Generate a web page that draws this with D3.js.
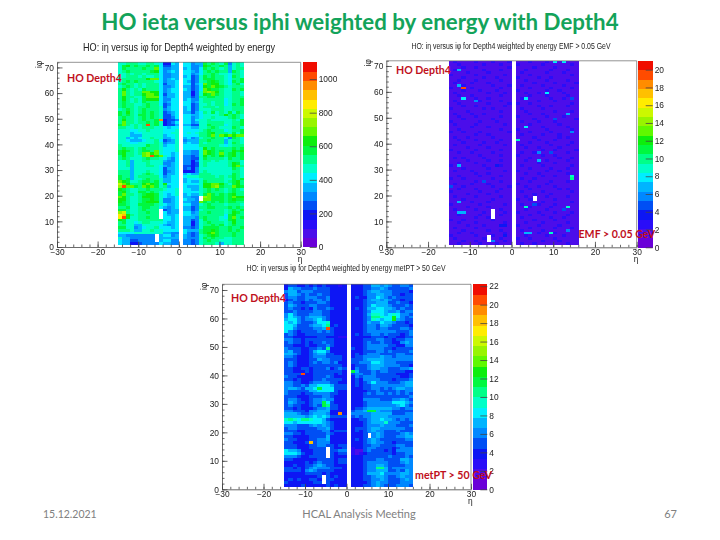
<!DOCTYPE html>
<html><head><meta charset="utf-8">
<script src="https://cdn.jsdelivr.net/npm/d3@7"></script>
<style>html,body{margin:0;padding:0;background:#fff}svg{display:block}</style>
</head><body><svg id="c" width="720" height="540"></svg>
<script>
// iphi rows from 71 down to 1; columns are ieta -15..15, each character is a colour band 0-19 (0-9,a-j), '.' = empty
const etaBins = d3.range(-15, 16);
const phiBins = d3.range(71, 0, -1);
const paletteColors = ["#6a00d8","#4c10ea","#2a10f8","#0a14f4","#0050f4","#0088ff","#00b4ff","#00eeff","#00ffc8","#00ff88","#00f840","#10ee10","#60f800","#98f400","#ccf800","#ffec00","#ffc000","#ff8c00","#ff4c00","#f01000"];
const rowsAll = [
"889998899873376.77566a9a98a5898","8ab9a99a9a74466.77556ba99a96898","8a9999a99c75566.67557a9a9896899","89a99999ab75676.776579a9a996a98",
"889899899975566.7756799a9887998","889998988975566.67458a9a9987a98","8999999bcc75676.77458aaa998799a","89a9a9999875667.764589aba987a9a",
"9a9989899974667.77467cabb9879a8","89a989899975567.66457bacba98999","9b9898a99975677.76457cbaa988a9a","9c9899ccbb75677.66358cdcb988998",
"9c9899bccb74667.66358baca988998","9b9988accc75667.664599aa9988999","9b9898abbb75577.67558999997899a","9a9898a99975677.77568998997899a",
"9a99889a9974577.7745889899 78a9a","9a99899a9984677.6745899989 88999","89a989a99985677.6745888999 88999","a9b989a9a984567.6646798a898a8a9",
"a9a98aa9a984467.7766788889b9a98","9a9989a9a984457.7756788988 89a98","9b9989a99ah3445.7757889888 8898a","9c99899a9a83457.7756889999 8899a",
"ac98989i9a83446.664488a999 7899a","998898999887677.7766889a98 88a98","8887788988 87778.777789a999 7899a","8886778888 87788.787899ab99 98a8a",
"8886668888 86778.777799ac9c bcbcc","8867678898 86678.6756899a99 75a98","8876667889 74568.566699a999 68998","8887788889 85668.6766989999 68a98",
"9888888a99 86778.7777999998 78999","9a9989a999 87778.77778b9a99 99a9a","aba989aa9c 87778.66558cba9a 99bab","ab9989cdbc 87767.66558cba9c 9ab9a",
"9b9988cdib c8767.55458b9a9b 9ab9a","9a98889a99 87657.55448a9999 8a99a","8896889988 86557.5535899898 89998","8896888988 85567.5534898888 89ba8",
"8896888998 76567.4434898888 89bc9","8886888888 74667.4535888888 88a98","9996888988 74567.3335898888 88998","9996889a98 74667.6766999888 88a98",
"a996899999 75677.7888999989 89a98","a9a6889a99 86677.6777899999 88a9a","cba889aa9a 86677.67668a9999 89ab9","ecb999bcba 8b777.77778bbccb 98ab9",
"dicca9cbca 89677.76668bbcda 99cba","ba98899a99 98778.776689a9a9 89a98","ab988aa9a9 87778.777789a999 89a99","ac9989abba 87678.67668aca9a 9ab99",
"cb9889bbba 87667.6655bdcaaa 9acbb","bb9889aaba 85567.7665bccaaa 9abaa","ba9889abbb 85567.6655ca9a9a 9aa99","aa988aaaa9 87667.775589a999 89998",
"99a889aa99 76567.664599aa99 9a9a9","aa9889a999 74566.6645899999 89a9a","de98899a99 87566.775699a999 89ba9","fgb9899999 87667.7766999999 7ab99",
"fib8899a99 97767.66659a9998 7ac9a","ba88899999 97767.66458a9998 8ab99","9a88789988 87667.663589a999 89b99","9988668888 76567.6635899a9a 89a99",
"aa88567889 77767.55458aaaa9 9a99a","9998668898 87777.76669aaba9 9a9a9","7777888888 86655.75459abca9 99a99","6655555555 67756.654589aba9 99a99",
"8665555555 66666.65558a9a99 88999","7664455555 67755.554589a998 88999","7663345555 76655.5545899986 88999"
].map(r => r.replace(/ /g,""));
const rowsEmf = [
"121111211121112.111211121112111","112111112111211.211111211111121","111211211111112.111121111211111","121111112111211.112111112111211",
"111121111211111.121111121112111","211111211111121.111211111111121","111211112112111.211112112111111","112111211111211.112111121111211",
"121112111211111.111121111211112","111211111121112.121111211112111","211112111111211.111211112111121","111211121112111.211111121121111",
"121111111211121.112112111112111","112112111111211.111211121111211","111111211211111.121111112112111","121111121111211.111112111211111",
"112111111211112.211211111111121","111211211111121.111112112111211","211111112121111.121111211111111","111121111111211.112111111211121",
"121112112111111.111211211111211","112111211111211.211111121112111","111211111121111.111121111211112","211111121112111.121112111211111",
"121111211111121.111211111121111","111112111211111.112111211111211","112111111111211.211111121111121","211211121111112.111211112111111",
"111111211211111.121111211121111","121121111121111.111121111121211","112111211111211.211112111211111","111211112112111.111211121111121",
"121111121111121.121111112111211","111121111211111.112112111121111","211111211111211.111111211211112","112112111121111.121121111111211",
"111111121111211.211111211211111","121211112111111.111211111121121","111121111211211.112111121111211","112111211111111.111112111211111",
"211111112111211.121111211111121","111211111211111.111211112111211","121112111111121.211111121121111","111111211211111.112112111111211",
"112111121111211.111111211211111","211211111121111.121121111111121","111111211111211.111211112111211","121112111211111.211111121111111",
"111211111121112.112112111211111","112111211111211.111211111121211","211111121112111.121111211111121","111121111211111.111121112111111",
"121111211111211.112111121111211","111211111121111.211211111211111","112112111211111.111111211111121","211111121111121.121112111211111",
"111121111211111.111211112111211","121111211111211.112111121111111","111211112111121.211112111211121","112111121111211.111211211111211",
"111111211211111.121111112112111","211211111121111.111121111211111","112111211111121.112111211111211","111121112111211.211112111121111",
"121111211111111.111211111211121","111211111211211.121111211111211","112112111111121.111112111211111","211111211121111.112111121112111",
"121111112111211.211211111211111","111211211111121.111111211121111","112111121112111.121121111111211"
];
const rowsMet = [
"344334343433323.3334466565 44554","365544454443333.3334455654 44445","566455544443333.3334566555 44443","466545445443333.3334556655 44344",
"455445554453333.3433557654 54444","345445455453333.3334566565 44344","454434445543333.3334556664 45443","465444554443333.3334576665 44454",
"454434354454333.3434667766 54544","445444455443333.3334577765 56455","575444555443333.3334688767 87554","576545666543333.3334599877 87545",
"677545567543333.3334587677 86544","767544457783333.3334655766 54434","776444566793433.3334554665 44443","775444455654333.3334554554 44554",
"754344445454333.3334555555 54445","454334444444333.3434455454 44345","443333334433322.3333344434 43344","554434444444333.3334445544 34455",
"454434344544333.3334544544 33565","443334334454333.3334555554 43355","544433445453333.4334555544 34444","564433467753333.3334445545 44445",
"665433456644333.3434555444 45544","554333455544443.3445555655 45555","444333446554443.4445666655 55555","454333454554533.4455577655 54444",
"454333444444443.3444566655 55443","443344344453454.3544566554 44556","443334344444443.3644454554 44433","444433344444343.4554454444 43334",
"544333344454333.3545554444 44334","443433344544443.3435555444 34445","554433455554433.3434575554 44566","554454667776444.3434455555 55566",
"566546678777444.3334455454 56655","544444667777433.3333445444 45455","544434455554433.3334545545 45454","444333444554333.3334444444 44445",
"455433455655333.3335555444 55654","465443455774333.3334555555 77765","454433454994433.3334555555 56754","443433345564433.3445666666 55455",
"554443556663333.4556666555 44444","666544566653353.5555566666 44455","666665676764444.4545566665 55555","898779877643333.3344566766 54545",
"776777777654333.3334566685 55444","555444565654333.3334555655 54445","455444445564333.3444566555 55544","444334444553444.3434565544 45444",
"554434444454333.3334456544 44565","443333444463333.3334556544 45566","544333445563333.3434565444 44455","443334445553333.3334565544 34444",
"444333445544344.3334455444 45544","444333444444334.2334554444 34555","766533344454455.2234544434 35555","777643344444344.2223444444 34455",
"555433444444333.3334444445 44454","443333334444344.3334445544 44665","333334345444344.3334555554 44565","334334456544333.3334556654 44455",
"443434565554443.3334555964 55555","444435654444333.3334556664 45465","333334444343333.3334666755 55665","333333334443433.3334456654 45655",
"343433443344333.3334455654 44565","433333344443333.3333456554 44555","333343333343433.3334456544 45554"
].map(r => r.replace(/ /g,""));
// individually read cells: [ieta, iphi, band]; band -1 = empty bin
const hotAll = [[-5,11,-1],[-5,12,-1],[-5,13,-1],[-5,14,-1],[-6,2,-1],[-6,3,-1],[-6,4,-1],[5,18,-1],[5,19,-1]];
const hotEmf = [[10,71,7],[12,71,7],[-13,68,6],[-13,62,6],[-12,61,18],[-12,57,7],[-9,56,5],[3,57,7],[8,59,7],[14,57,4],[13,51,6],[10,49,4],[3,46,7],[14,44,5],[1,41,8],[6,36,5],[9,36,4],[6,33,6],[-13,31,6],[-4,31,3],[14,27,8],[14,26,9],[-7,25,4],[-15,23,4],[-13,17,6],[5,18,-1],[5,19,-1],[3,15,8],[13,15,8],[12,14,4],[5,16,4],[-13,13,6],[-12,13,6],[-5,11,-1],[-5,12,-1],[-5,13,-1],[-5,14,-1],[-6,2,-1],[-6,3,-1],[-6,4,-1],[-2,8,3],[-3,8,3],[13,6,5],[3,5,6],[4,5,6],[9,5,8],[-5,2,5],[-2,4,3]];
const hotMet = [[-5,56,18],[-11,40,18],[-2,26,17],[-9,16,16],[11,60,11],[11,59,11],[6,60,9],[8,60,8],[1,41,10],[-7,35,10],[-6,29,10],[-6,30,10],[-11,24,9],[-14,24,9],[-5,49,9],[5,27,10],[6,27,10],[5,18,-1],[5,19,-1],[-5,11,-1],[-5,12,-1],[-5,13,-1],[-5,14,-1],[-6,2,-1],[-6,3,-1],[-6,4,-1],[2,13,1],[3,13,1],[2,12,1],[3,12,2],[7,7,9]];
const titleAll = "HO: iη versus iφ for Depth4 weighted by energy";
const titleEmf = "HO: iη versus iφ for Depth4 weighted by energy EMF > 0.05 GeV";
const titleMet = "HO: iη versus iφ for Depth4 weighted by energy metPT > 50 GeV";
const zmaxAll = 1100, zmaxEmf = 21, zmaxMet = 22.2;
const zticksAll = [0,200,400,600,800,1000];
const zticksEmf = [0,2,4,6,8,10,12,14,16,18,20];
const zticksMet = [0,2,4,6,8,10,12,14,16,18,20,22];
const xMajor = d3.range(-30,31,10), xMinor = d3.range(-30,31,2);
const yMajor = d3.range(0,71,10), yMinor = d3.range(0,73,2);
const slideTitle = "HO ieta versus iphi weighted by energy with Depth4";
const footer = ["15.12.2021","HCAL Analysis Meeting","67"];

const svg = d3.select("#c");
const defs = svg.append("defs");
defs.append("filter").attr("id","bh").attr("x","-5%").attr("y","-5%").attr("width","110%").attr("height","110%").append("feGaussianBlur").attr("stdDeviation",0.4);
defs.append("filter").attr("id","bt").attr("x","-5%").attr("y","-5%").attr("width","110%").attr("height","110%").append("feGaussianBlur").attr("stdDeviation",0.3);
const AF = "'Liberation Sans',Arial,sans-serif", BF = "Lato,'Open Sans',sans-serif";

function panel(o){
  const x = d3.scaleLinear().domain([-30,30]).range([o.l,o.r]);
  const y = d3.scaleLinear().domain([0,72]).range([o.b,o.t]);
  const col = d3.scaleQuantize().domain([0,o.zmax]).range(paletteColors);
  const band = o.zmax/paletteColors.length;
  const cells=[];
  o.rows.forEach((row,ri)=>{ const chars=row.split("");
    etaBins.forEach((eta,ci)=>{ const c=chars[ci]; if(c===undefined||c===".")return;
      cells.push({eta,phi:phiBins[ri],v:(parseInt(c,36)+0.5)*band}); });});
  o.hot.forEach(([eta,phi,b])=>{ const i=cells.findIndex(d=>d.eta===eta&&d.phi===phi);
    if(b<0){ if(i>=0) cells.splice(i,1);} else if(i>=0) cells[i].v=(b+0.5)*band; else cells.push({eta,phi,v:(b+0.5)*band}); });
  const g = svg.append("g");
  g.append("g").attr("filter","url(#bh)").attr("shape-rendering","crispEdges").selectAll("rect").data(cells).join("rect")
    .attr("x",d=>x(d.eta)).attr("y",d=>y(d.phi+1))
    .attr("width",d=>x(d.eta+1)-x(d.eta)+0.3).attr("height",d=>y(d.phi)-y(d.phi+1)+0.3)
    .attr("fill",d=>col(d.v));
  const z = d3.scaleLinear().domain([0,o.zmax]).range([o.b,o.t]);
  const bands = paletteColors.map((c,i)=>({c,i}));
  g.append("g").attr("filter","url(#bh)").attr("shape-rendering","crispEdges").selectAll("rect").data(bands).join("rect")
    .attr("x",o.cl).attr("width",o.cr-o.cl).attr("y",d=>z((d.i+1)*band)).attr("height",d=>z(d.i*band)-z((d.i+1)*band)+0.3).attr("fill",d=>d.c);
  const ag = g.append("g").attr("filter","url(#bt)").attr("font-family",AF).attr("font-size",o.fs).attr("fill","#222");
  const style = s=>{ s.attr("font-family",AF).attr("font-size",o.fs); s.selectAll("path,line").attr("stroke","#444").attr("stroke-width",0.8); s.selectAll("text").attr("fill","#222"); };
  ag.append("g").attr("transform",`translate(0,${o.b})`).call(d3.axisBottom(x).tickValues(xMinor).tickSize(-2.5).tickFormat("")).call(style).select("path").remove();
  ag.append("g").attr("transform",`translate(0,${o.b})`).call(d3.axisBottom(x).tickValues(xMajor).tickSizeInner(-5.5).tickSizeOuter(0).tickPadding(2).tickFormat(d=>d<0?"−"+(-d):d)).call(style);
  ag.append("g").attr("transform",`translate(${o.l},0)`).call(d3.axisLeft(y).tickValues(yMinor).tickSize(-2.5).tickFormat("")).call(style).select("path").remove();
  ag.append("g").attr("transform",`translate(${o.l},0)`).call(d3.axisLeft(y).tickValues(yMajor).tickSizeInner(-5.5).tickSizeOuter(0).tickPadding(3)).call(style);
  ag.append("path").attr("d",`M${o.l},${o.t}H${o.r}V${o.b}`).attr("fill","none").attr("stroke","#666").attr("stroke-width",0.7);
  ag.append("g").attr("transform",`translate(${o.cr},0)`).call(d3.axisRight(z).tickValues(o.zticks).tickSizeInner(-7).tickSizeOuter(0).tickPadding(2).tickFormat(d3.format("d"))).call(style).call(s=>s.select("path").remove());
  ag.append("text").attr("x",(o.titleX)).attr("y",o.titleY).attr("text-anchor","middle").attr("font-size",o.tfs).attr("textLength",o.titleW).attr("lengthAdjust","spacingAndGlyphs").text(o.title);
  ag.append("text").attr("x",o.r-3).attr("y",o.b+15).attr("text-anchor","start").attr("font-size",o.fs).text("η");
  ag.append("text").attr("x",o.l-17).attr("y",o.t+4).attr("text-anchor","middle").attr("font-size",o.fs).attr("transform",`rotate(-90 ${o.l-17} ${o.t+2})`).text("iφ");
  o.labels.forEach(l=>svg.append("text").attr("x",l[1]).attr("y",l[2]).attr("text-anchor",l[3]).attr("font-family",BF).attr("font-weight",700).attr("font-size",10.6).attr("fill","#c0101c").text(l[0]));
}
panel({rows:rowsAll,hot:hotAll,zmax:zmaxAll,zticks:zticksAll,title:titleAll,l:57,r:300.7,b:247,t:62.3,cl:302.7,cr:316.7,fs:8.4,tfs:10.5,titleX:179,titleY:51,titleW:192,labels:[["HO Depth4",67,82,"start"]]});
panel({rows:rowsEmf,hot:hotEmf,zmax:zmaxEmf,zticks:zticksEmf,title:titleEmf,l:386.3,r:636.7,b:247.3,t:60.8,cl:638.3,cr:652.7,fs:8.4,tfs:8.5,titleX:511,titleY:49,titleW:199,labels:[["HO Depth4",396,74,"start"],["EMF > 0.05 GeV",655,238,"end"]]});
panel({rows:rowsMet,hot:hotMet,zmax:zmaxMet,zticks:zticksMet,title:titleMet,l:222,r:471,b:489.3,t:284.3,cl:472.7,cr:487.3,fs:8.4,tfs:8.5,titleX:346,titleY:271,titleW:199,labels:[["HO Depth4",231,302,"start"],["metPT > 50 GeV",492,479,"end"]]});
svg.append("text").attr("x",360).attr("y",29.5).attr("text-anchor","middle").attr("font-family",BF).attr("font-weight",700).attr("font-size",22.3).attr("fill","#13a35a").text(slideTitle);
[[footer[0],43,"start",10.5],[footer[1],359,"middle",11],[footer[2],677,"end",11]].forEach(f=>svg.append("text").attr("x",f[1]).attr("y",518).attr("text-anchor",f[2]).attr("font-family",BF).attr("font-size",f[3]).attr("fill","#808080").text(f[0]));
</script></body></html>
